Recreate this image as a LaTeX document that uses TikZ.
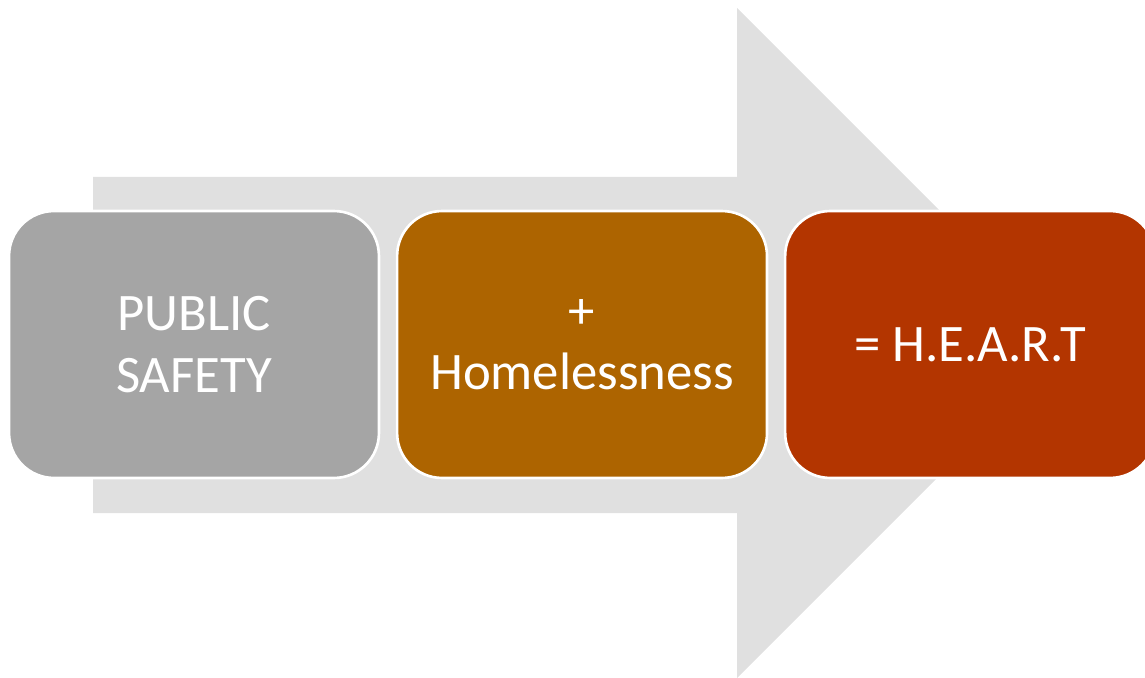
\documentclass[tikz,border=0pt]{standalone}
\usepackage{fontspec}
\setmainfont{Carlito}
\usetikzlibrary{positioning}
\definecolor{flowgray}{HTML}{E0E0E0}
\definecolor{stagegray}{HTML}{A5A5A5}
\definecolor{stageorange}{HTML}{AD6400}
\definecolor{stagered}{HTML}{B33500}
\tikzset{
stage/.style={
	draw=white, line width=1.5pt, rounded corners=0.9cm,
	minimum width=7.4cm, minimum height=5.34cm, text=white,
	align=center, font=\fontsize{30}{35}\selectfont}
}

\begin{document}
\begin{tikzpicture}[x=0.02cm, y=-0.02cm]
	\useasboundingbox (0,0) rectangle (1145,678);
	% background arrow
	\fill[flowgray] (93,177) -- (737,177) -- (737,8) -- (1072,343)
		-- (737,678) -- (737,513) -- (93,513) -- cycle;
	\node[stage, fill=stagegray] (safety) at (194,344.5) {PUBLIC\\SAFETY};
	\node[stage, fill=stageorange, right=0.31cm of safety] (homeless) {+\\Homelessness};
	\node[stage, fill=stagered, right=0.31cm of homeless] (heart) {= H.E.A.R.T};
\end{tikzpicture}
\end{document}
